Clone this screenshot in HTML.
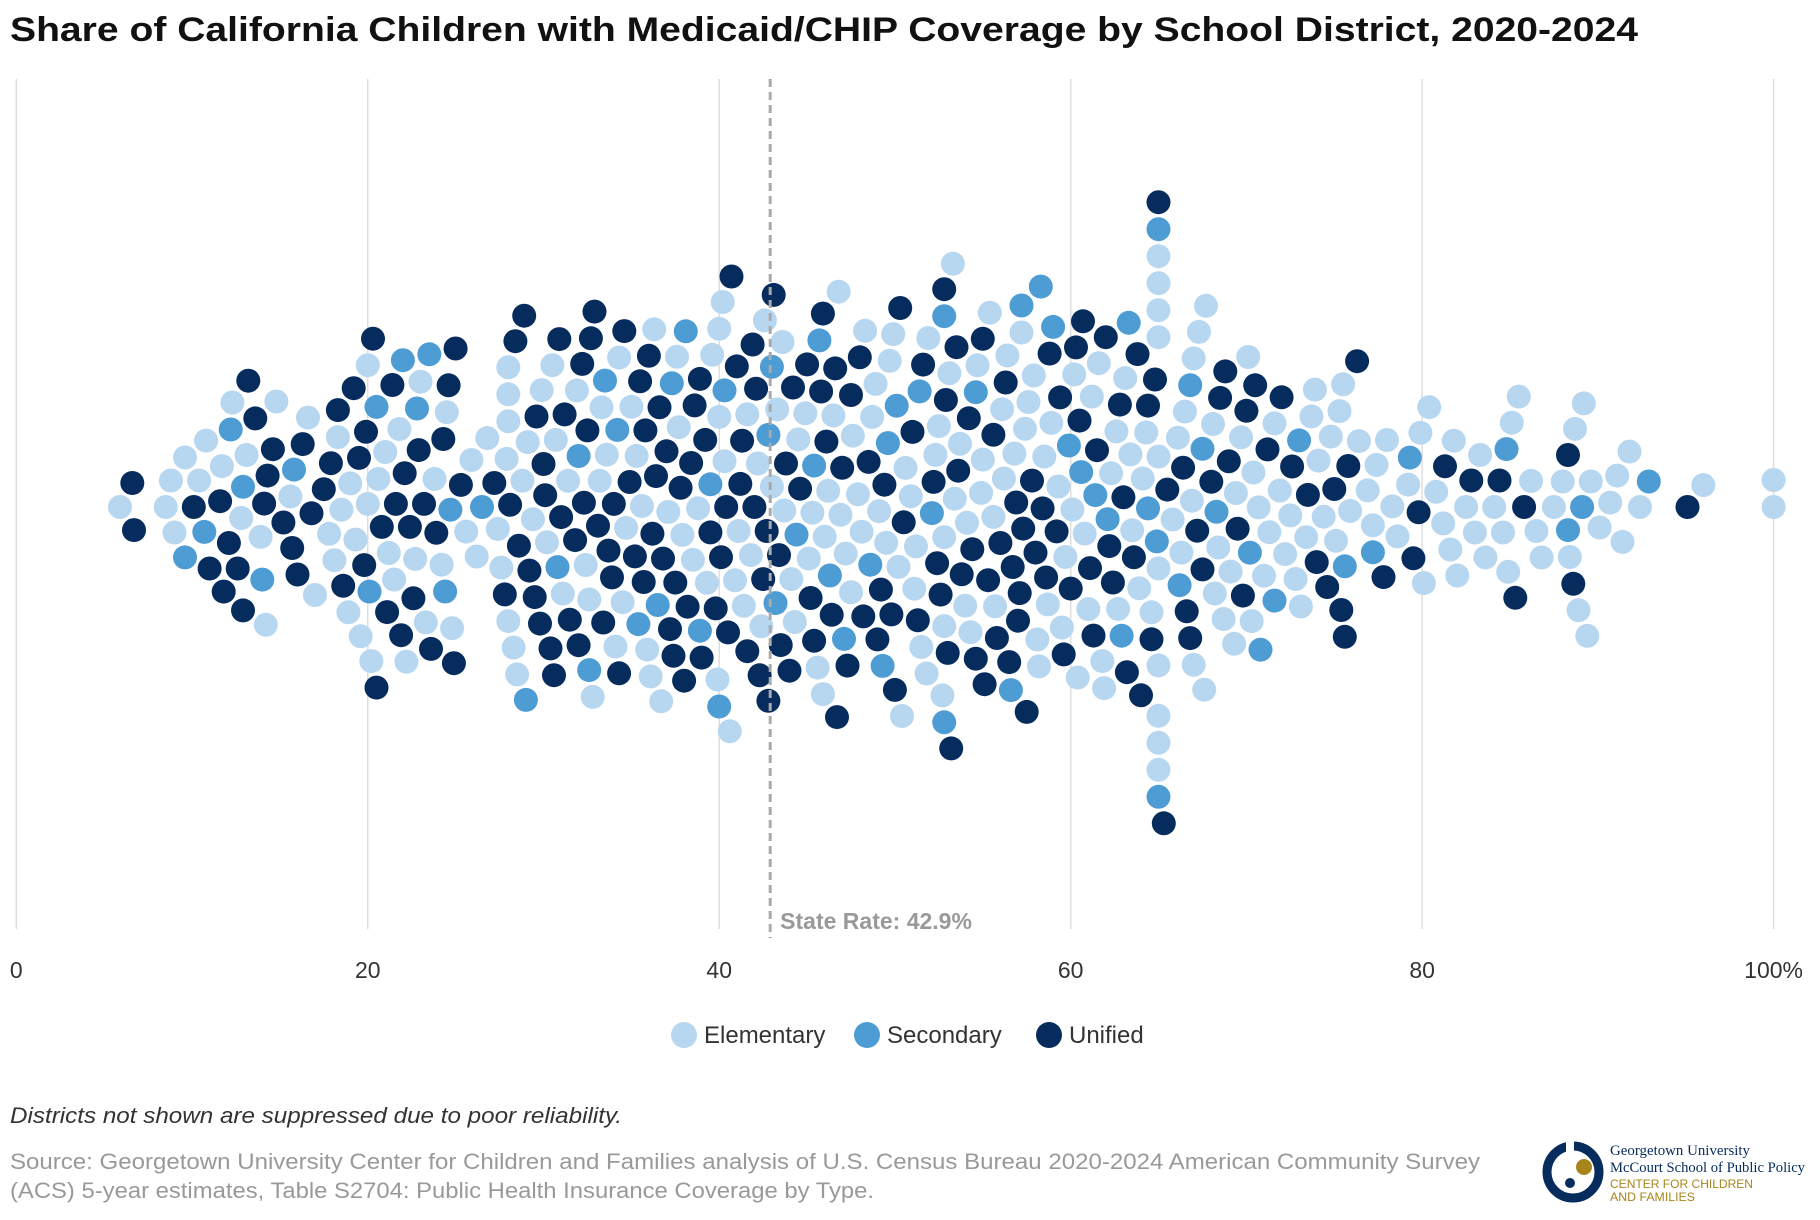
<!DOCTYPE html>
<html><head><meta charset="utf-8"><style>
html,body{margin:0;padding:0;background:#fff;}
svg{display:block;font-family:"Liberation Sans",Arial,sans-serif;}
</style></head><body>
<svg id="chart" width="1820" height="1220" viewBox="0 0 1820 1220">
<text x="10" y="41" font-size="34" font-weight="bold" fill="#111" textLength="1628" lengthAdjust="spacingAndGlyphs">Share of California Children with Medicaid/CHIP Coverage by School District, 2020-2024</text>
<g id="grid"></g>
<g id="xaxis"></g>
<g id="dots"></g>
<g id="state"></g>
<g>
 <g><circle cx="684" cy="1035" r="13" fill="#b7d6f0"/><text x="704" y="1043" font-size="24" fill="#333">Elementary</text></g>
 <g><circle cx="867" cy="1035" r="13" fill="#4d9cd4"/><text x="887" y="1043" font-size="24" fill="#333">Secondary</text></g>
 <g><circle cx="1049" cy="1035" r="13" fill="#062c5e"/><text x="1069" y="1043" font-size="24" fill="#333">Unified</text></g>
</g>
<text x="10" y="1123" font-size="22" font-style="italic" fill="#333" textLength="612" lengthAdjust="spacingAndGlyphs">Districts not shown are suppressed due to poor reliability.</text>
<text x="10" y="1169" font-size="22" fill="#999" textLength="1470" lengthAdjust="spacingAndGlyphs">Source: Georgetown University Center for Children and Families analysis of U.S. Census Bureau 2020-2024 American Community Survey</text>
<text x="10" y="1198" font-size="22" fill="#999" textLength="864" lengthAdjust="spacingAndGlyphs">(ACS) 5-year estimates, Table S2704: Public Health Insurance Coverage by Type.</text>
<g>
 <circle cx="1573" cy="1172" r="26" fill="none" stroke="#062c5e" stroke-width="9"/>
 <rect x="1566" y="1140" width="8" height="20" fill="#fff"/>
 <circle cx="1584" cy="1167" r="8" fill="#a8841c"/>
 <circle cx="1570" cy="1183" r="5" fill="#062c5e"/>
 <text x="1610" y="1155" font-family="Liberation Serif,serif" font-size="15" fill="#062c5e" textLength="140" lengthAdjust="spacingAndGlyphs">Georgetown University</text>
 <text x="1610" y="1172" font-family="Liberation Serif,serif" font-size="15" fill="#062c5e" textLength="195" lengthAdjust="spacingAndGlyphs">McCourt School of Public Policy</text>
 <text x="1610" y="1188" font-size="12" fill="#a8841c" textLength="143" lengthAdjust="spacingAndGlyphs">CENTER FOR CHILDREN</text>
 <text x="1610" y="1201" font-size="12" fill="#a8841c" textLength="85" lengthAdjust="spacingAndGlyphs">AND FAMILIES</text>
</g>
</svg>
<script>
const tickValues = [0, 20, 40, 60, 80, 100];
const tickLabels = ["0", "20", "40", "60", "80", "100%"];
const stateRate = 42.9;
const elementary = [5.9,8.5,8.8,9.6,10.4,10.8,11.7,12.3,12.8,13.1,13.9,14.2,14.8,15.6,16.6,17.0,17.8,18.1,18.5,18.9,19.3,19.6,20.0,20.0,20.2,20.6,21.0,21.2,21.5,21.8,22.2,22.7,23.0,23.3,23.8,24.2,24.5,24.8,25.6,26.2,26.8,27.4,27.9,28.0,28.0,28.0,28.0,28.3,28.8,29.1,29.4,29.9,30.2,30.7,31.1,31.4,31.9,32.4,32.8,33.2,33.3,33.6,34.1,34.5,34.7,35.0,35.3,35.6,35.9,36.3,36.7,37.1,37.6,37.9,38.5,38.8,39.3,39.9,40.0,40.0,40.2,40.6,40.9,41.4,41.8,42.2,42.6,43.0,43.3,43.7,44.1,44.5,44.9,45.3,45.6,45.9,46.2,46.5,46.9,47.2,47.6,47.9,48.3,48.7,49.1,49.5,49.9,50.2,50.6,50.9,51.2,51.5,51.9,52.3,52.7,52.8,52.8,53.1,53.4,53.7,54.0,54.3,54.7,55.0,55.4,55.7,56.1,56.4,56.8,57.2,57.6,57.9,58.2,58.5,58.9,59.3,59.7,60.1,60.4,60.8,61.2,61.6,61.9,62.3,62.7,63.1,63.5,63.9,64.3,64.6,65.0,65.0,65.0,65.0,65.0,65.0,65.0,65.0,65.0,65.0,65.8,66.1,66.5,66.9,67.0,67.0,67.3,67.7,68.1,68.4,68.7,69.1,69.4,69.7,70.1,70.4,70.7,71.0,71.3,71.6,71.9,72.2,72.5,72.8,73.1,73.4,73.7,74.1,74.4,74.8,75.1,75.5,75.9,76.4,76.9,77.4,78.0,78.6,79.2,79.9,80.4,80.8,81.2,81.6,82.0,82.5,83.0,83.6,84.1,84.6,84.9,85.5,86.2,86.8,87.5,88.0,88.4,88.9,89.2,89.4,90.1,90.7,91.4,91.8,92.4,96.0,100.0,100.0,
9.0,18.3,19.0,25.9,27.6,28.5,30.5,32.6,34.3,36.1,37.7,39.6,40.3,41.1,41.6,42.4,43.6,44.3,45.1,46.0,46.8,47.5,48.1,48.9,49.7,50.4,51.1,51.8,52.5,53.3,54.1,54.9,55.6,56.2,57.4,58.1,58.7,59.5,60.2,61.0,61.8,62.6,63.4,64.1,66.3,67.6,68.2,69.3,70.3,73.9,75.3,77.2,78.3,80.1,81.8,83.3,85.1,86.5,88.7,89.6,91.1];
const secondary = [9.6,10.7,12.2,12.9,14.0,15.8,20.1,20.5,22.0,22.8,23.5,24.4,24.7,26.5,29.0,30.8,32.0,32.6,33.5,34.2,35.4,36.5,37.3,38.1,38.9,39.5,40.0,40.3,42.8,43.0,43.2,44.4,45.4,45.7,46.3,47.1,48.6,49.3,49.6,50.1,51.4,52.1,52.8,52.8,54.6,56.6,57.2,58.3,59.0,59.9,60.6,61.4,62.1,62.9,63.3,64.4,64.9,65.0,65.0,66.2,66.8,67.5,68.3,70.2,70.8,71.6,73.0,75.6,77.2,79.3,84.8,88.3,89.1,92.9];
const unified = [6.6,6.7,10.1,11.0,11.6,11.8,12.1,12.6,12.9,13.2,13.6,14.1,14.3,14.6,15.2,15.7,16.0,16.3,16.8,17.5,17.9,18.3,19.2,19.5,19.8,19.9,20.3,20.5,20.8,21.1,21.4,21.6,21.9,22.1,22.4,22.6,22.9,23.2,23.6,23.9,24.3,24.6,24.9,25.3,27.2,27.8,28.1,28.4,28.6,28.9,29.2,29.5,29.8,30.0,30.1,30.4,30.6,30.9,31.2,31.5,31.8,32.0,32.3,32.5,32.7,32.9,33.1,33.4,33.7,34.0,34.3,34.6,34.9,35.2,35.5,35.8,36.0,36.2,36.4,36.6,36.8,37.0,37.2,37.5,37.8,38.0,38.2,38.4,38.6,38.9,39.2,39.5,39.8,40.1,40.4,40.7,41.0,41.3,41.6,41.9,42.1,42.3,42.5,42.8,43.1,43.4,43.8,44.2,44.6,45.0,45.4,45.8,46.1,46.4,46.7,47.0,47.5,48.0,48.5,49.0,49.4,49.8,50.0,50.3,51.0,51.6,52.2,52.6,52.8,52.9,53.2,53.5,53.8,54.2,54.6,55.0,55.3,55.6,56.0,56.3,56.7,56.9,57.0,57.1,57.5,58.0,58.4,58.8,59.2,59.6,60.0,60.3,60.7,61.1,61.5,62.0,62.4,62.8,63.2,63.6,64.0,64.4,64.8,65.0,65.5,66.4,66.8,67.2,68.0,68.5,69.0,69.5,70.0,70.5,71.2,72.0,73.5,74.0,74.6,75.0,75.4,75.8,76.3,77.8,79.5,79.8,81.3,82.8,84.4,85.3,85.8,88.3,88.6,95.1,
18.6,25.0,29.6,31.0,32.2,33.9,35.7,37.4,39.0,40.5,41.2,42.0,42.7,43.5,44.0,45.2,45.9,46.6,47.3,48.2,49.2,50.5,51.3,52.4,53.0,53.6,54.4,55.1,55.8,56.5,57.3,57.8,58.6,59.4,60.5,61.3,62.2,63.0,63.8,64.6,65.3,66.6,67.5,68.8,69.8,72.6,75.6];

const NS = "http://www.w3.org/2000/svg";
const X0 = 16.3, X1 = 1773.6, CY = 507, R = 12, D = 27;
function xScale(v){ return X0 + (X1 - X0) * v / 100; }

const grid = document.getElementById('grid');
const xaxis = document.getElementById('xaxis');
tickValues.forEach((t, i) => {
  const l = document.createElementNS(NS, 'line');
  l.setAttribute('x1', xScale(t)); l.setAttribute('x2', xScale(t));
  l.setAttribute('y1', 79); l.setAttribute('y2', 929);
  l.setAttribute('stroke', '#dedede'); l.setAttribute('stroke-width', 1.5);
  
  
  grid.appendChild(l);
  const tx = document.createElementNS(NS, 'text');
  tx.setAttribute('x', xScale(t)); tx.setAttribute('y', 978);
  tx.setAttribute('text-anchor', 'middle'); tx.setAttribute('font-size', 23); tx.setAttribute('fill', '#333');
  tx.textContent = tickLabels[i];
  
  
  xaxis.appendChild(tx);
});

const colors = {E:'#b7d6f0', S:'#4d9cd4', U:'#062c5e'};
const pts = [];
elementary.forEach(v => pts.push({v, c:'E'}));
secondary.forEach(v => pts.push({v, c:'S'}));
unified.forEach(v => pts.push({v, c:'U'}));
pts.sort((a, b) => a.v - b.v);
const placed = [];
pts.forEach(p => {
  const x = xScale(p.v);
  const nb = placed.filter(q => Math.abs(q.x - x) < D);
  const cands = [0];
  nb.forEach(q => { const h = Math.sqrt(D*D - (q.x - x)*(q.x - x)); cands.push(q.y + h, q.y - h); });
  cands.sort((a, b) => Math.abs(a) - Math.abs(b) || a - b);
  let y = 0;
  for (const c of cands) {
    if (nb.every(q => (q.x - x)*(q.x - x) + (q.y - c)*(q.y - c) >= D*D - 0.01)) { y = c; break; }
  }
  placed.push({x, y, c:p.c});
});
const dots = document.getElementById('dots');
placed.forEach(p => {
  const c = document.createElementNS(NS, 'circle');
  c.setAttribute('cx', p.x.toFixed(1)); c.setAttribute('cy', (CY + p.y).toFixed(1));
  c.setAttribute('r', R); c.setAttribute('fill', colors[p.c]);
  
  
  dots.appendChild(c);
});

const st = document.getElementById('state');
const sl = document.createElementNS(NS, 'line');
sl.setAttribute('x1', xScale(stateRate)); sl.setAttribute('x2', xScale(stateRate));
sl.setAttribute('y1', 79); sl.setAttribute('y2', 938);
sl.setAttribute('stroke', '#aaa'); sl.setAttribute('stroke-width', 3); sl.setAttribute('stroke-dasharray', '8,5');


st.appendChild(sl);
const stx = document.createElementNS(NS, 'text');
stx.setAttribute('x', xScale(stateRate) + 10); stx.setAttribute('y', 929);
stx.setAttribute('font-size', 23); stx.setAttribute('font-weight', 'bold'); stx.setAttribute('fill', '#999');
stx.textContent = 'State Rate: ' + stateRate + '%';


st.appendChild(stx);
</script>
</body></html>
